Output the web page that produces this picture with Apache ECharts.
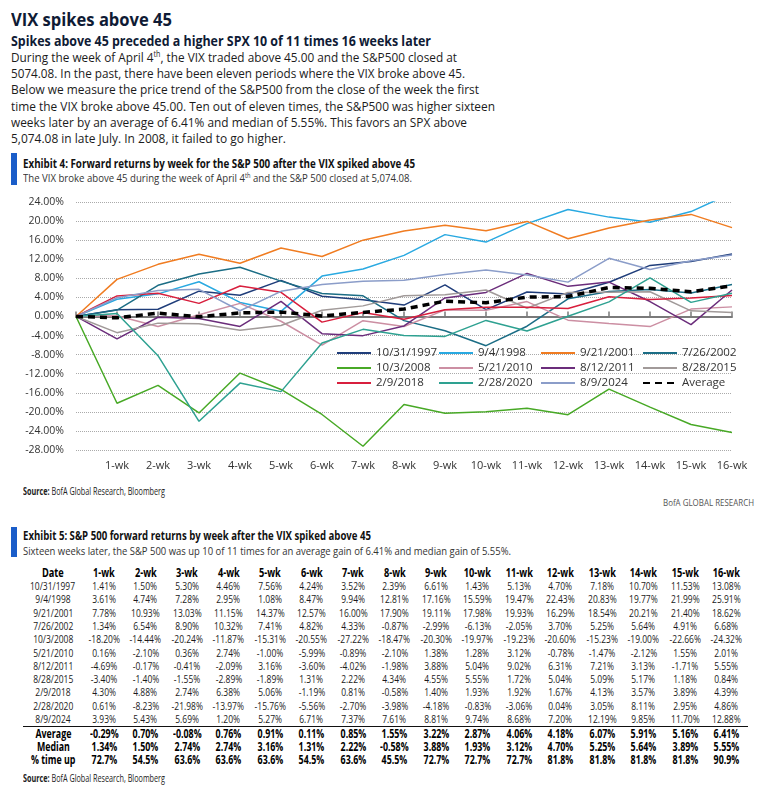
<!DOCTYPE html>
<html><head><meta charset="utf-8">
<script src="https://cdn.jsdelivr.net/npm/echarts@6/dist/echarts.min.js"></script>
<style>
html,body{margin:0;padding:0;background:#fff;width:770px;height:802px;overflow:hidden;font-family:'Open Sans',sans-serif;color:#1b1b1b;}
.t{position:absolute;white-space:nowrap;transform-origin:0 50%;height:20px;line-height:20px;}
.bar{position:absolute;background:#1a5dc9;width:6px;}
.c{position:absolute;width:80px;text-align:center;white-space:nowrap;height:14px;line-height:14px;}
.c span{display:inline-block;transform-origin:50% 50%;}
#chart{position:absolute;left:0;top:190px;width:770px;height:290px;}
#sep{position:absolute;left:23px;width:725px;height:0;border-top:1.5px solid #111;}
sup{font-size:0.6em;vertical-align:0.6em;line-height:0;}
</style></head><body>
<div id="chart"></div>
<script>
// ---------------- data ----------------
const weeks = ['', '1-wk', '2-wk', '3-wk', '4-wk', '5-wk', '6-wk', '7-wk', '8-wk', '9-wk', '10-wk', '11-wk', '12-wk', '13-wk', '14-wk', '15-wk', '16-wk'];
const spikeDates = ['10/31/1997', '9/4/1998', '9/21/2001', '7/26/2002', '10/3/2008', '5/21/2010', '8/12/2011', '8/28/2015', '2/9/2018', '2/28/2020', '8/9/2024'];
const r19971031 = [1.41, 1.50, 5.30, 4.46, 7.56, 4.24, 3.52, 2.39, 6.61, 1.43, 5.13, 4.70, 7.18, 10.70, 11.53, 13.08];
const r19980904 = [3.61, 4.74, 7.28, 2.95, 1.08, 8.47, 9.94, 12.81, 17.16, 15.59, 19.47, 22.43, 20.83, 19.77, 21.99, 25.91];
const r20010921 = [7.78, 10.93, 13.03, 11.15, 14.37, 12.57, 16.00, 17.90, 19.11, 17.98, 19.93, 16.29, 18.54, 20.21, 21.40, 18.62];
const r20020726 = [1.34, 6.54, 8.90, 10.32, 7.41, 4.82, 4.33, -0.87, -2.99, -6.13, -2.05, 3.70, 5.25, 5.64, 4.91, 6.68];
const r20081003 = [-18.20, -14.44, -20.24, -11.87, -15.31, -20.55, -27.22, -18.47, -20.30, -19.97, -19.23, -20.60, -15.23, -19.00, -22.66, -24.32];
const r20100521 = [0.16, -2.10, 0.36, 2.74, -1.00, -5.99, -0.89, -2.10, 1.38, 1.28, 3.12, -0.78, -1.47, -2.12, 1.55, 2.01];
const r20110812 = [-4.69, -0.17, -0.41, -2.09, 3.16, -3.60, -4.02, -1.98, 3.88, 5.04, 9.02, 6.31, 7.21, 3.13, -1.71, 5.55];
const r20150828 = [-3.40, -1.40, -1.55, -2.89, -1.89, 1.31, 2.22, 4.34, 4.55, 5.55, 1.72, 5.04, 5.09, 5.17, 1.18, 0.84];
const r20180209 = [4.30, 4.88, 2.74, 6.38, 5.06, -1.19, 0.81, -0.58, 1.40, 1.93, 1.92, 1.67, 4.13, 3.57, 3.89, 4.39];
const r20200228 = [0.61, -8.23, -21.98, -13.97, -15.76, -5.56, -2.70, -3.98, -4.18, -0.83, -3.06, 0.04, 3.05, 8.11, 2.95, 4.86];
const r20240809 = [3.93, 5.43, 5.69, 1.20, 5.27, 6.71, 7.37, 7.61, 8.81, 9.74, 8.68, 7.20, 12.19, 9.85, 11.70, 12.88];
const averageRow = [-0.29, 0.70, -0.08, 0.76, 0.91, 0.11, 0.85, 1.55, 3.22, 2.87, 4.06, 4.18, 6.07, 5.91, 5.16, 6.41];
const medianRow = [1.34, 1.50, 2.74, 2.74, 3.16, 1.31, 2.22, -0.58, 3.88, 1.93, 3.12, 4.70, 5.25, 5.64, 3.89, 5.55];
const pctUpRow = [72.7, 54.5, 63.6, 63.6, 63.6, 54.5, 63.6, 45.5, 72.7, 72.7, 72.7, 81.8, 81.8, 81.8, 81.8, 90.9];
const yTicks = { min: -28, max: 24, step: 4 };

// ---------------- styles ----------------
const seriesRows = [r19971031, r19980904, r20010921, r20020726, r20081003, r20100521, r20110812, r20150828, r20180209, r20200228, r20240809];
const seriesColors = ['#1f3d7a', '#29a9e1', '#f07c21', '#1b6d85', '#48a926', '#cc8fa3', '#6b2d7b', '#a19a99', '#d81f3d', '#2ea191', '#8b9dc9'];

// ---------------- text blocks ----------------
const NAVY = '#0f1b35';
const textLines = [
  { html: 'VIX spikes above 45', x: 11, cy: 19, w: 161, fs: 18, fw: 700, col: NAVY },
  { html: 'Spikes above 45 preceded a higher SPX 10 of 11 times 16 weeks later', x: 11, cy: 41, w: 420, fs: 14, fw: 700, col: NAVY },
  { html: 'During the week of April 4<sup>th</sup>, the VIX traded above 45.00 and the S&amp;P500 closed at', x: 11, cy: 57, w: 446, fs: 13.5 },
  { html: '5074.08. In the past, there have been eleven periods where the VIX broke above 45.', x: 11, cy: 73, w: 454, fs: 13.5 },
  { html: 'Below we measure the price trend of the S&amp;P500 from the close of the week the first', x: 11, cy: 89, w: 468, fs: 13.5 },
  { html: 'time the VIX broke above 45.00. Ten out of eleven times, the S&amp;P500 was higher sixteen', x: 11, cy: 106, w: 484, fs: 13.5 },
  { html: 'weeks later by an average of 6.41% and median of 5.55%. This favors an SPX above', x: 11, cy: 122, w: 456, fs: 13.5 },
  { html: '5,074.08 in late July. In 2008, it failed to go higher.', x: 11, cy: 138, w: 275, fs: 13.5 },
  { html: 'Exhibit 4: Forward returns by week for the S&amp;P 500 after the VIX spiked above 45', x: 23, cy: 164, w: 392, fs: 12, fw: 700, col: '#111' },
  { html: 'The VIX broke above 45 during the week of April 4<sup>th</sup> and the S&amp;P 500 closed at 5,074.08.', x: 23, cy: 178, w: 389, fs: 11.5, col: '#333' },
  { html: '<b>Source:</b> BofA Global Research, Bloomberg', x: 23, cy: 491, w: 142, fs: 10, col: '#222' },
  { html: 'BofA GLOBAL RESEARCH', x: 663, cy: 503, w: 91, fs: 9.5, col: '#555' },
  { html: 'Exhibit 5: S&amp;P 500 forward returns by week after the VIX spiked above 45', x: 23, cy: 536, w: 348, fs: 12, fw: 700, col: '#111' },
  { html: 'Sixteen weeks later, the S&amp;P 500 was up 10 of 11 times for an average gain of 6.41% and median gain of 5.55%.', x: 23, cy: 551, w: 488, fs: 11.5, col: '#333' },
  { html: '<b>Source:</b> BofA Global Research, Bloomberg', x: 23, cy: 778, w: 142, fs: 10, col: '#222' }
];
const bars = [{ top: 153, h: 32 }, { top: 527, h: 30 }];

textLines.forEach(s => {
  const d = document.createElement('div');
  d.className = 't';
  d.style.left = s.x + 'px';
  d.style.top = (s.cy - 10) + 'px';
  d.style.fontSize = s.fs + 'px';
  d.style.fontWeight = s.fw || 400;
  d.style.color = s.col || '#1b1b1b';
  d.innerHTML = s.html;
  document.body.appendChild(d);
  const w0 = d.getBoundingClientRect().width;
  d.style.transform = 'scaleX(' + (s.w / w0).toFixed(4) + ')';
});
bars.forEach(b => {
  const d = document.createElement('div');
  d.className = 'bar';
  d.style.left = '11px';
  d.style.top = b.top + 'px';
  d.style.height = b.h + 'px';
  document.body.appendChild(d);
});

// ---------------- table ----------------
function measure(txt, fs, fw) {
  const sp = document.createElement('span');
  sp.style.cssText = 'position:absolute;visibility:hidden;white-space:nowrap;font-family:Open Sans;font-size:' + fs + 'px;font-weight:' + fw;
  sp.textContent = txt;
  document.body.appendChild(sp);
  const w = sp.getBoundingClientRect().width;
  sp.remove();
  return w;
}
const TFS = 11.5;
const tScale = (30 / measure('-21.98%', TFS, 400) + 47 / measure('10/31/1997', TFS, 400)) / 2;
const dateCx = 53, col0Cx = 104, colStep = 41.5;
function cell(txt, cx, cy, bold, fs) {
  const d = document.createElement('div');
  d.className = 'c';
  d.style.left = (cx - 40) + 'px';
  d.style.top = (cy - 7) + 'px';
  d.style.fontSize = fs + 'px';
  d.style.fontWeight = bold ? 700 : 400;
  d.style.color = bold ? '#000' : '#1b1b1b';
  const sp = document.createElement('span');
  sp.textContent = txt;
  sp.style.transform = 'scaleX(' + tScale.toFixed(4) + ')';
  d.appendChild(sp);
  document.body.appendChild(d);
}
const fmt2 = v => v.toFixed(2) + '%';
const fmt1 = v => v.toFixed(1) + '%';
const headerCy = 573, rowCy0 = 586, rowStep = 13.3;
cell('Date', dateCx, headerCy, true, 12.5);
weeks.slice(1).forEach((w, i) => cell(w, col0Cx + colStep * i, headerCy, true, 12.5));
seriesRows.forEach((row, r) => {
  const cy = rowCy0 + rowStep * r;
  cell(spikeDates[r], dateCx, cy, false, TFS);
  row.forEach((v, i) => cell(fmt2(v), col0Cx + colStep * i, cy, false, TFS));
});
const sep = document.createElement('div');
sep.id = 'sep';
sep.style.top = '726px';
document.body.appendChild(sep);
[['Average', averageRow, fmt2, 734], ['Median', medianRow, fmt2, 747], ['% time up', pctUpRow, fmt1, 760]].forEach(([lab, row, f, cy]) => {
  cell(lab, dateCx, cy, true, 12);
  row.forEach((v, i) => cell(f(v), col0Cx + colStep * i, cy, true, 12));
});

// ---------------- chart ----------------
const FONT = 'Open Sans';
const chart = echarts.init(document.getElementById('chart'), null, { renderer: 'canvas' });
const series = seriesRows.map((row, i) => ({
  name: spikeDates[i], type: 'line', data: [0].concat(row), xAxisIndex: 0,
  symbol: 'none', smooth: false, z: 2,
  lineStyle: { width: 1.5, color: seriesColors[i] }, itemStyle: { color: seriesColors[i] }
}));
series.push({
  name: 'Average', type: 'line', data: [0].concat(averageRow), xAxisIndex: 0,
  symbol: 'none', z: 5,
  lineStyle: { width: 3.5, color: '#000', type: [7, 5] }, itemStyle: { color: '#000' }
});
const allNames = spikeDates.concat(['Average']);
const legendCols = [[0, 4, 8], [1, 5, 9], [2, 6, 10], [3, 7, 11]];
const legendLeft = [336, 438, 540, 642];
const legends = legendCols.map((idx, c) => ({
  orient: 'vertical', left: legendLeft[c], top: 157, padding: 0,
  itemWidth: 34, itemHeight: 14, itemGap: 3, selectedMode: false,
  itemStyle: { opacity: 0 },
  textStyle: { fontSize: 11.5, color: '#333', fontFamily: FONT },
  data: idx.map(k => allNames[k])
}));
chart.setOption({
  animation: false,
  textStyle: { fontFamily: FONT },
  grid: { left: 76, right: 38, top: 12, bottom: 30, containLabel: false, outerBoundsMode: 'none' },
  legend: legends,
  xAxis: [
    { type: 'category', data: weeks, boundaryGap: false, position: 'bottom',
      axisLine: { show: false, onZero: false }, axisTick: { show: false },
      axisLabel: { color: '#333', fontSize: 11, fontFamily: FONT, margin: 10, interval: 0 },
      splitLine: { show: false } },
    { type: 'category', data: weeks, boundaryGap: false, position: 'top',
      axisLine: { show: true, onZero: true, lineStyle: { color: '#7a7a7a', width: 2 } },
      axisTick: { show: true, length: 5, interval: 0, lineStyle: { color: '#7a7a7a', width: 1.5 } },
      axisLabel: { show: false }, splitLine: { show: false } }
  ],
  yAxis: {
    type: 'value', min: yTicks.min, max: yTicks.max, interval: yTicks.step,
    axisLine: { show: false }, axisTick: { show: false },
    axisLabel: { color: '#333', fontSize: 10.5, fontFamily: FONT, margin: 12, formatter: v => v.toFixed(2) + '%' },
    splitLine: { lineStyle: { type: 'dotted', color: '#aaaaaa', width: 1 } }
  },
  series: series
});
</script>
</body></html>
